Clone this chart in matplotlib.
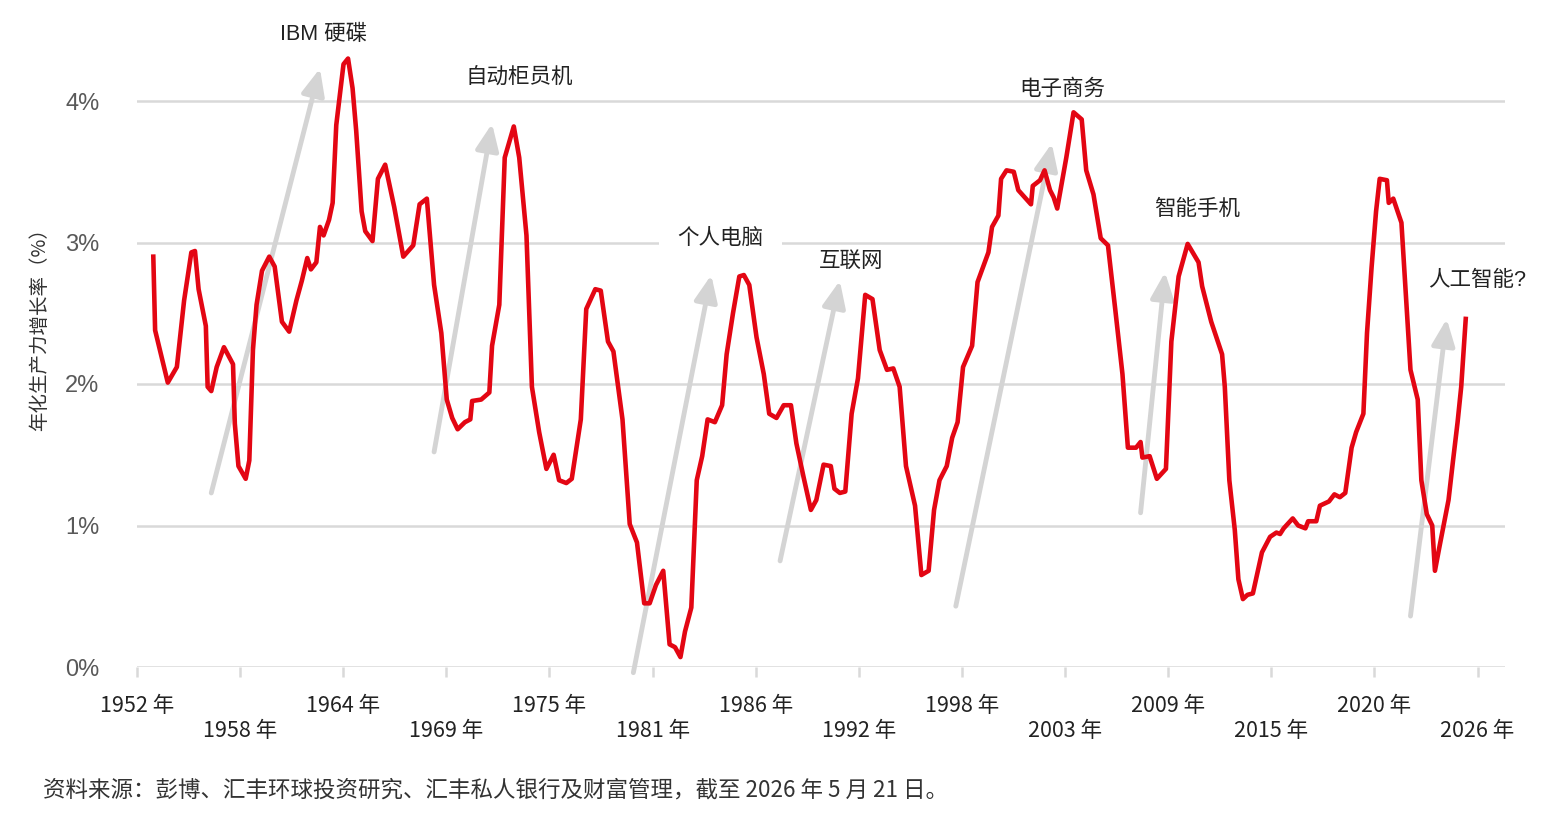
import numpy as np
import matplotlib
matplotlib.use("Agg")
import matplotlib.pyplot as plt

plt.rcParams['font.family'] = ['Noto Sans CJK SC', 'DejaVu Sans']

# ---- data ----
years = [1952.9, 1953.0, 1953.7, 1954.2, 1954.6, 1955.0, 1955.2, 1955.4, 1955.8, 1955.9,
         1956.1, 1956.4, 1956.8, 1957.3, 1957.4, 1957.6, 1958.0, 1958.2, 1958.4, 1958.6,
         1958.9, 1959.3, 1959.6, 1960.0, 1960.4, 1960.8, 1961.1, 1961.4, 1961.6, 1961.9,
         1962.1, 1962.3, 1962.6, 1962.8, 1963.0, 1963.4, 1963.65, 1963.9, 1964.1, 1964.4,
         1964.6, 1965.0, 1965.3, 1965.7, 1966.2, 1966.7, 1967.25, 1967.6, 1968.0, 1968.4,
         1968.8, 1969.1, 1969.4, 1969.7, 1970.1, 1970.4, 1970.5, 1971.0, 1971.45, 1971.6,
         1972.0, 1972.3, 1972.8, 1973.1, 1973.5, 1973.8, 1974.2, 1974.6, 1975.0, 1975.3,
         1975.7, 1976.0, 1976.5, 1976.8, 1977.3, 1977.6, 1978.0, 1978.3, 1978.8, 1979.2,
         1979.6, 1980.0, 1980.3, 1980.65, 1981.05, 1981.4, 1981.7, 1982.0, 1982.25, 1982.6,
         1982.9, 1983.2, 1983.5, 1983.9, 1984.3, 1984.55, 1984.9, 1985.25, 1985.5, 1985.8,
         1986.2, 1986.6, 1986.9, 1987.3, 1987.7, 1988.1, 1988.4, 1988.8, 1989.2, 1989.5,
         1989.9, 1990.3, 1990.5, 1990.8, 1991.1, 1991.45, 1991.8, 1992.2, 1992.6, 1993.0,
         1993.4, 1993.75, 1994.1, 1994.45, 1994.95, 1995.3, 1995.7, 1996.0, 1996.3, 1996.7,
         1997.0, 1997.3, 1997.6, 1998.1, 1998.4, 1999.0, 1999.2, 1999.55, 1999.7, 2000.0,
         2000.4, 2000.65, 2001.0, 2001.35, 2001.45, 2001.85, 2002.1, 2002.4, 2002.6, 2002.8,
         2003.3, 2003.7, 2004.15, 2004.4, 2004.8, 2005.2, 2005.6, 2006.0, 2006.4, 2006.7,
         2007.15, 2007.4, 2007.5, 2007.9, 2008.3, 2008.8, 2009.1, 2009.5, 2010.0, 2010.6,
         2010.8, 2011.3, 2011.9, 2012.05, 2012.3, 2012.6, 2012.8, 2013.05, 2013.3, 2013.6,
         2014.1, 2014.55, 2014.9, 2015.1, 2015.3, 2015.8, 2016.1, 2016.5, 2016.65, 2017.1,
         2017.3, 2017.8, 2018.1, 2018.4, 2018.7, 2019.05, 2019.3, 2019.7, 2019.9, 2020.15,
         2020.4, 2020.6, 2021.0, 2021.1, 2021.35, 2021.8, 2022.3, 2022.7, 2022.9, 2023.2,
         2023.5, 2023.65, 2023.9, 2024.4, 2024.65, 2024.9, 2025.1, 2025.35]
growth = [2.90, 2.38, 2.01, 2.12, 2.59, 2.93, 2.94, 2.67, 2.41, 1.98,
          1.95, 2.12, 2.26, 2.14, 1.72, 1.42, 1.33, 1.46, 2.24, 2.56,
          2.80, 2.90, 2.83, 2.44, 2.37, 2.59, 2.73, 2.89, 2.81, 2.86,
          3.11, 3.05, 3.16, 3.28, 3.83, 4.26, 4.30, 4.09, 3.79, 3.22,
          3.08, 3.01, 3.45, 3.55, 3.25, 2.90, 2.98, 3.27, 3.31, 2.70,
          2.36, 1.89, 1.76, 1.68, 1.73, 1.75, 1.88, 1.89, 1.94, 2.27,
          2.56, 3.60, 3.82, 3.60, 3.05, 1.98, 1.66, 1.40, 1.50, 1.32,
          1.30, 1.33, 1.75, 2.53, 2.67, 2.66, 2.30, 2.23, 1.75, 1.01,
          0.88, 0.45, 0.45, 0.58, 0.68, 0.16, 0.14, 0.07, 0.25, 0.42,
          1.32, 1.49, 1.75, 1.73, 1.85, 2.21, 2.50, 2.76, 2.77, 2.70,
          2.33, 2.07, 1.79, 1.76, 1.85, 1.85, 1.58, 1.34, 1.11, 1.18,
          1.43, 1.42, 1.26, 1.23, 1.24, 1.79, 2.04, 2.63, 2.60, 2.24,
          2.10, 2.11, 1.98, 1.42, 1.14, 0.65, 0.68, 1.11, 1.32, 1.42,
          1.62, 1.73, 2.12, 2.27, 2.72, 2.93, 3.11, 3.19, 3.45, 3.51,
          3.50, 3.37, 3.32, 3.27, 3.40, 3.44, 3.51, 3.37, 3.32, 3.24,
          3.60, 3.92, 3.87, 3.51, 3.34, 3.03, 2.98, 2.53, 2.07, 1.55,
          1.55, 1.59, 1.48, 1.49, 1.33, 1.40, 2.30, 2.76, 2.99, 2.86,
          2.69, 2.44, 2.21, 1.98, 1.32, 0.97, 0.62, 0.48, 0.51, 0.52,
          0.81, 0.92, 0.95, 0.94, 0.98, 1.05, 1.00, 0.98, 1.03, 1.03,
          1.14, 1.17, 1.22, 1.20, 1.23, 1.55, 1.66, 1.79, 2.36, 2.82,
          3.22, 3.45, 3.44, 3.28, 3.31, 3.14, 2.10, 1.89, 1.32, 1.08,
          1.00, 0.68, 0.85, 1.18, 1.46, 1.73, 1.98, 2.46]

tick_labels = ["1952 年", "1958 年", "1964 年", "1969 年", "1975 年", "1981 年", "1986 年",
               "1992 年", "1998 年", "2003 年", "2009 年", "2015 年", "2020 年", "2026 年"]
y_ticks = [0, 1, 2, 3, 4]
y_tick_labels = ["0%", "1%", "2%", "3%", "4%"]

# technology waves: label, tail (year, value), head (year, value), label position
wave_labels = ["IBM 硬碟", "自动柜员机", "个人电脑", "互联网", "电子商务", "智能手机", "人工智能?"]
wave_tail_x = [1956.1, 1968.4, 1979.4, 1987.5, 1997.2, 2007.4, 2022.3]
wave_tail_y = [1.23, 1.52, -0.04, 0.75, 0.43, 1.09, 0.36]
wave_head_x = [1962.1, 1971.6, 1983.7, 1990.8, 2002.5, 2008.75, 2024.3]
wave_head_y = [4.23, 3.84, 2.77, 2.73, 3.70, 2.79, 2.46]
label_x = [1962.3, 1973.1, 1984.2, 1991.4, 2003.1, 2010.5, 2026.0]
label_y = [4.47, 4.16, 3.03, 2.87, 4.08, 3.23, 2.73]

y_axis_title = "年化生产力增长率（%）"
source_text = "资料来源：彭博、汇丰环球投资研究、汇丰私人银行及财富管理，截至 2026 年 5 月 21 日。"

# ---- figure ----
W, H = 1559, 827
fig = plt.figure(figsize=(W / 100, H / 100), dpi=100)
ax = fig.add_axes([137 / W, 1 - 667 / H, (1505 - 137) / W, (667 - 30.25) / H])

grid_col = "#d9d9d9"
for yv in y_ticks:
    ax.axhline(yv, color=grid_col, lw=1.8, zorder=0)

ax.plot(years, growth, color="#e30613", lw=3.3, solid_joinstyle="round", zorder=3)

for i in range(len(wave_labels)):
    ax.annotate("", xy=(wave_head_x[i], wave_head_y[i]), xytext=(wave_tail_x[i], wave_tail_y[i]),
                arrowprops=dict(arrowstyle="-|>,head_length=0.8,head_width=0.35",
                                mutation_scale=20, color="#d4d4d4", lw=3.5,
                                shrinkA=0, shrinkB=0),
                annotation_clip=False, zorder=2)
    kw = {}
    if wave_labels[i] == "个人电脑":
        kw["bbox"] = dict(boxstyle="square,pad=0.85", fc="white", ec="none")
    ax.text(label_x[i], label_y[i], wave_labels[i], ha="center", va="center",
            fontsize=15.5, color="#222222", zorder=1.5, clip_on=False,
            family=["Liberation Sans", "Noto Sans CJK SC"], **kw)

ax.set_xlim(1952.0, 1952.0 + (1505 - 137) / 18.115)
ax.set_ylim(0, 4.5)

tick_pos = np.linspace(1952.0, 2026.0, len(tick_labels))
ax.set_xticks(tick_pos)
ax.set_xticklabels(tick_labels, fontsize=15.5, color="#222222",
                   family=["Liberation Sans Narrow", "Noto Sans CJK SC"])
ax.tick_params(axis="x", length=7, width=1.8, color=grid_col, direction="out")
for i, t in enumerate(ax.xaxis.get_major_ticks()):
    t.set_pad(13 if i % 2 == 0 else 31)

ax.set_yticks(y_ticks)
ax.set_yticklabels(y_tick_labels, fontsize=17, color="#595959",
                   family=["Liberation Sans", "DejaVu Sans"])
ax.tick_params(axis="y", length=0, pad=27)

for s in ax.spines.values():
    s.set_visible(False)

fig.text(40 / W, 1 - 325 / H, y_axis_title, rotation=90, ha="center", va="center",
         fontsize=14, color="#333333")
fig.text(43 / W, 1 - 790 / H, source_text, ha="left", va="center",
         fontsize=16.2, color="#333333",
         family=["Liberation Sans Narrow", "Noto Sans CJK SC"])

fig.savefig("out.png", dpi=100, facecolor="white")
